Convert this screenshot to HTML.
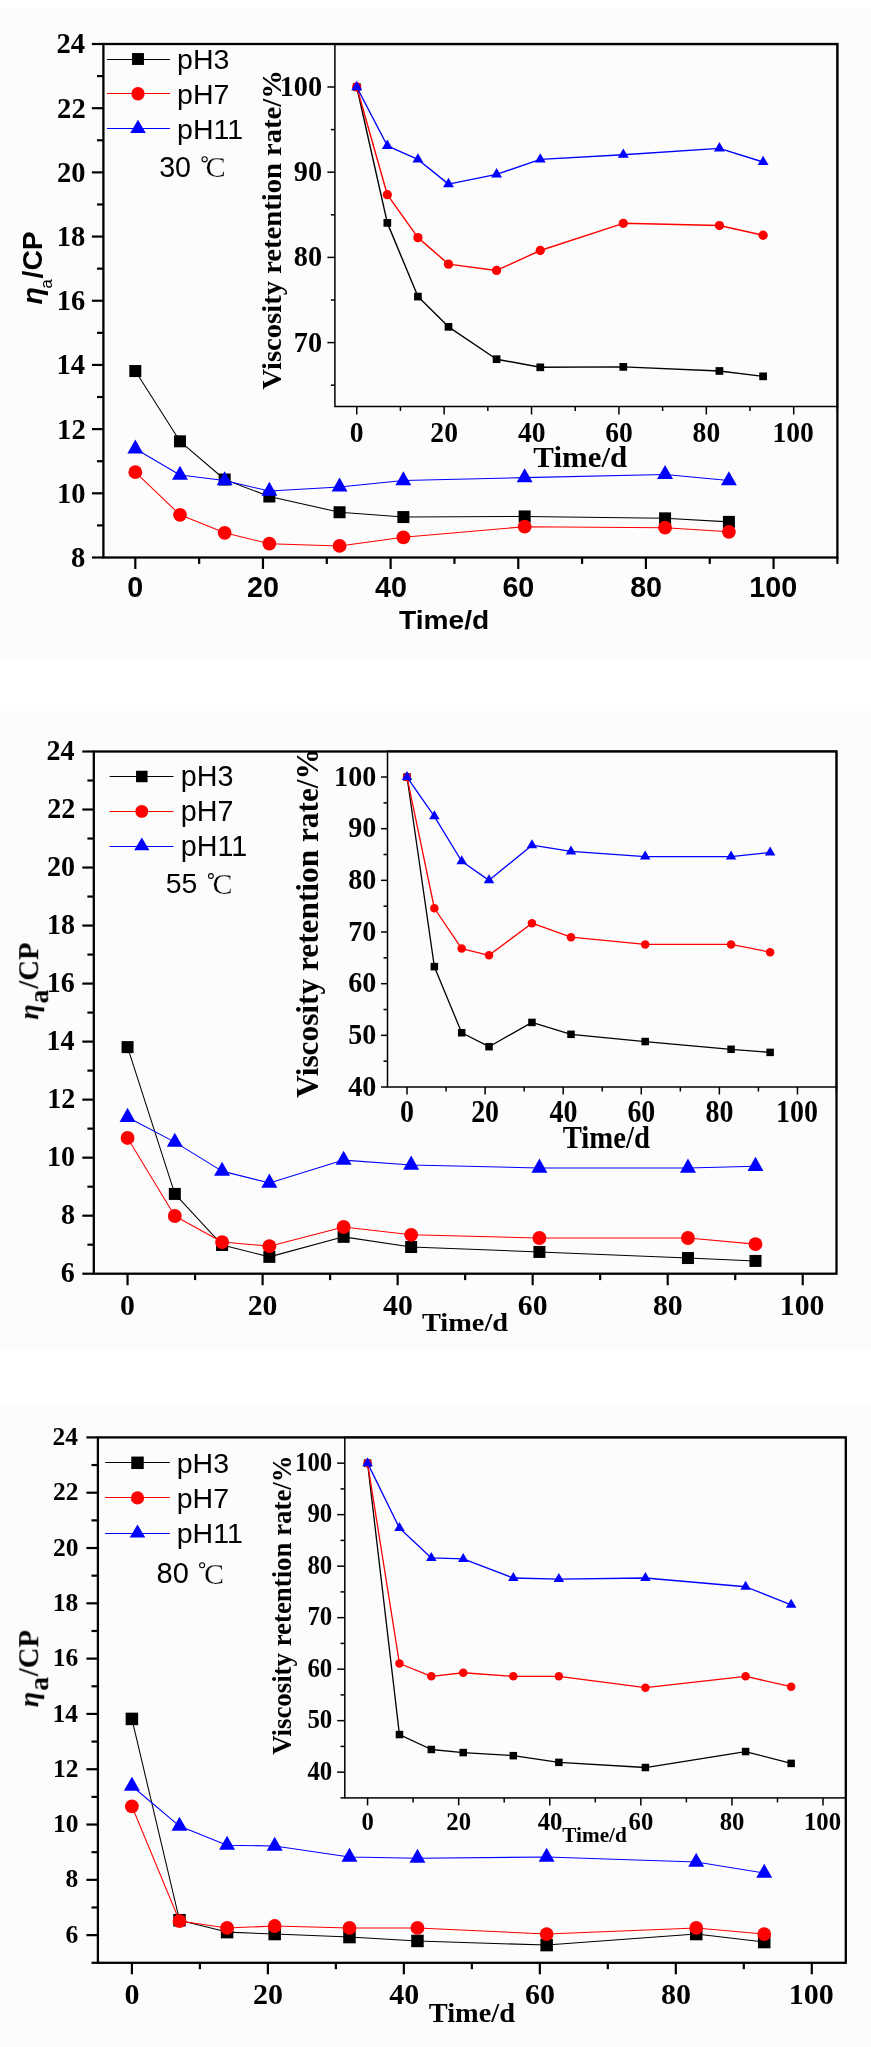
<!DOCTYPE html>
<html><head><meta charset="utf-8"><style>
html,body{margin:0;padding:0;background:#fff;overflow:hidden;}
svg{display:block;will-change:transform;}
</style></head><body>
<svg width="871" height="2047" viewBox="0 0 871 2047"><rect x="0" y="8" width="871" height="650" fill="#fcfcfc"/>
<rect x="0" y="711" width="871" height="639" fill="#fcfcfc"/>
<rect x="0" y="1404" width="871" height="643" fill="#fcfcfc"/>
<polyline points="135.31,371.04 179.99,441.32 224.67,479.51 269.35,496.52 339.56,512.25 403.38,517.06 524.65,516.42 665.07,518.35 728.90,521.88" fill="none" stroke="#000" stroke-width="1.05" stroke-linejoin="round"/>
<rect x="129.31" y="365.04" width="12.00" height="12.00" fill="#000"/>
<rect x="173.99" y="435.32" width="12.00" height="12.00" fill="#000"/>
<rect x="218.67" y="473.51" width="12.00" height="12.00" fill="#000"/>
<rect x="263.35" y="490.52" width="12.00" height="12.00" fill="#000"/>
<rect x="333.56" y="506.25" width="12.00" height="12.00" fill="#000"/>
<rect x="397.38" y="511.06" width="12.00" height="12.00" fill="#000"/>
<rect x="518.65" y="510.42" width="12.00" height="12.00" fill="#000"/>
<rect x="659.07" y="512.35" width="12.00" height="12.00" fill="#000"/>
<rect x="722.90" y="515.88" width="12.00" height="12.00" fill="#000"/>
<polyline points="135.31,472.13 179.99,514.82 224.67,532.79 269.35,543.70 339.56,545.95 403.38,537.28 524.65,526.69 665.07,527.65 728.90,531.82" fill="none" stroke="#f00" stroke-width="1.05" stroke-linejoin="round"/>
<circle cx="135.31" cy="472.13" r="6.90" fill="#f00"/>
<circle cx="179.99" cy="514.82" r="6.90" fill="#f00"/>
<circle cx="224.67" cy="532.79" r="6.90" fill="#f00"/>
<circle cx="269.35" cy="543.70" r="6.90" fill="#f00"/>
<circle cx="339.56" cy="545.95" r="6.90" fill="#f00"/>
<circle cx="403.38" cy="537.28" r="6.90" fill="#f00"/>
<circle cx="524.65" cy="526.69" r="6.90" fill="#f00"/>
<circle cx="665.07" cy="527.65" r="6.90" fill="#f00"/>
<circle cx="728.90" cy="531.82" r="6.90" fill="#f00"/>
<polyline points="135.31,448.74 179.99,475.06 224.67,480.51 269.35,491.10 339.56,486.93 403.38,480.51 524.65,477.62 665.07,474.41 728.90,480.51" fill="none" stroke="#00f" stroke-width="1.05" stroke-linejoin="round"/>
<path d="M135.31 439.41L143.26 453.41L127.36 453.41Z" fill="#00f"/>
<path d="M179.99 465.72L187.94 479.72L172.04 479.72Z" fill="#00f"/>
<path d="M224.67 471.18L232.62 485.18L216.72 485.18Z" fill="#00f"/>
<path d="M269.35 481.77L277.30 495.77L261.40 495.77Z" fill="#00f"/>
<path d="M339.56 477.60L347.51 491.60L331.61 491.60Z" fill="#00f"/>
<path d="M403.38 471.18L411.33 485.18L395.43 485.18Z" fill="#00f"/>
<path d="M524.65 468.29L532.60 482.29L516.70 482.29Z" fill="#00f"/>
<path d="M665.07 465.08L673.02 479.08L657.12 479.08Z" fill="#00f"/>
<path d="M728.90 471.18L736.85 485.18L720.95 485.18Z" fill="#00f"/>
<rect x="334.90" y="44.40" width="502.50" height="362.10" fill="#fcfcfc"/>
<polyline points="356.75,87.00 387.33,222.89 417.92,296.59 448.51,326.84 496.57,359.21 540.27,367.31 623.29,366.88 719.42,370.97 763.12,376.34" fill="none" stroke="#000" stroke-width="1.40" stroke-linejoin="round"/>
<rect x="352.90" y="83.15" width="7.70" height="7.70" fill="#000"/>
<rect x="383.48" y="219.04" width="7.70" height="7.70" fill="#000"/>
<rect x="414.07" y="292.74" width="7.70" height="7.70" fill="#000"/>
<rect x="444.66" y="322.99" width="7.70" height="7.70" fill="#000"/>
<rect x="492.72" y="355.36" width="7.70" height="7.70" fill="#000"/>
<rect x="536.42" y="363.46" width="7.70" height="7.70" fill="#000"/>
<rect x="619.44" y="363.03" width="7.70" height="7.70" fill="#000"/>
<rect x="715.57" y="367.12" width="7.70" height="7.70" fill="#000"/>
<rect x="759.27" y="372.49" width="7.70" height="7.70" fill="#000"/>
<polyline points="356.75,87.00 387.33,194.69 417.92,237.63 448.51,264.13 496.57,270.44 540.27,250.50 623.29,223.32 719.42,225.54 763.12,235.25" fill="none" stroke="#f00" stroke-width="1.40" stroke-linejoin="round"/>
<circle cx="356.75" cy="87.00" r="4.65" fill="#f00"/>
<circle cx="387.33" cy="194.69" r="4.65" fill="#f00"/>
<circle cx="417.92" cy="237.63" r="4.65" fill="#f00"/>
<circle cx="448.51" cy="264.13" r="4.65" fill="#f00"/>
<circle cx="496.57" cy="270.44" r="4.65" fill="#f00"/>
<circle cx="540.27" cy="250.50" r="4.65" fill="#f00"/>
<circle cx="623.29" cy="223.32" r="4.65" fill="#f00"/>
<circle cx="719.42" cy="225.54" r="4.65" fill="#f00"/>
<circle cx="763.12" cy="235.25" r="4.65" fill="#f00"/>
<polyline points="356.75,87.00 387.33,145.79 417.92,159.42 448.51,184.13 496.57,174.33 540.27,159.42 623.29,154.73 719.42,148.34 763.12,161.98" fill="none" stroke="#00f" stroke-width="1.40" stroke-linejoin="round"/>
<path d="M356.75 80.73L362.20 90.13L351.30 90.13Z" fill="#00f"/>
<path d="M387.33 139.52L392.78 148.92L381.88 148.92Z" fill="#00f"/>
<path d="M417.92 153.15L423.37 162.55L412.47 162.55Z" fill="#00f"/>
<path d="M448.51 177.86L453.96 187.26L443.06 187.26Z" fill="#00f"/>
<path d="M496.57 168.06L502.02 177.46L491.12 177.46Z" fill="#00f"/>
<path d="M540.27 153.15L545.72 162.55L534.82 162.55Z" fill="#00f"/>
<path d="M623.29 148.47L628.74 157.87L617.84 157.87Z" fill="#00f"/>
<path d="M719.42 142.08L724.87 151.48L713.97 151.48Z" fill="#00f"/>
<path d="M763.12 155.71L768.57 165.11L757.67 165.11Z" fill="#00f"/>
<rect x="334.90" y="44.40" width="502.50" height="362.10" fill="none" stroke="#000" stroke-width="1.50"/>
<line x1="356.75" y1="406.50" x2="356.75" y2="414.50" stroke="#000" stroke-width="1.50"/>
<line x1="444.14" y1="406.50" x2="444.14" y2="414.50" stroke="#000" stroke-width="1.50"/>
<line x1="531.53" y1="406.50" x2="531.53" y2="414.50" stroke="#000" stroke-width="1.50"/>
<line x1="618.92" y1="406.50" x2="618.92" y2="414.50" stroke="#000" stroke-width="1.50"/>
<line x1="706.31" y1="406.50" x2="706.31" y2="414.50" stroke="#000" stroke-width="1.50"/>
<line x1="793.70" y1="406.50" x2="793.70" y2="414.50" stroke="#000" stroke-width="1.50"/>
<line x1="400.44" y1="406.50" x2="400.44" y2="411.00" stroke="#000" stroke-width="1.50"/>
<line x1="487.83" y1="406.50" x2="487.83" y2="411.00" stroke="#000" stroke-width="1.50"/>
<line x1="575.23" y1="406.50" x2="575.23" y2="411.00" stroke="#000" stroke-width="1.50"/>
<line x1="662.62" y1="406.50" x2="662.62" y2="411.00" stroke="#000" stroke-width="1.50"/>
<line x1="750.01" y1="406.50" x2="750.01" y2="411.00" stroke="#000" stroke-width="1.50"/>
<line x1="837.40" y1="406.50" x2="837.40" y2="411.00" stroke="#000" stroke-width="1.50"/>
<line x1="327.40" y1="342.60" x2="334.90" y2="342.60" stroke="#000" stroke-width="1.50"/>
<line x1="327.40" y1="257.40" x2="334.90" y2="257.40" stroke="#000" stroke-width="1.50"/>
<line x1="327.40" y1="172.20" x2="334.90" y2="172.20" stroke="#000" stroke-width="1.50"/>
<line x1="327.40" y1="87.00" x2="334.90" y2="87.00" stroke="#000" stroke-width="1.50"/>
<line x1="330.90" y1="385.20" x2="334.90" y2="385.20" stroke="#000" stroke-width="1.50"/>
<line x1="330.90" y1="300.00" x2="334.90" y2="300.00" stroke="#000" stroke-width="1.50"/>
<line x1="330.90" y1="214.80" x2="334.90" y2="214.80" stroke="#000" stroke-width="1.50"/>
<line x1="330.90" y1="129.60" x2="334.90" y2="129.60" stroke="#000" stroke-width="1.50"/>
<text font-family="Liberation Serif, serif" font-size="29.50" font-weight="bold" fill="#000" transform="translate(349.85,441.82) scale(0.9350,1)">0</text>
<text font-family="Liberation Serif, serif" font-size="29.50" font-weight="bold" fill="#000" transform="translate(430.35,441.82) scale(0.9350,1)">20</text>
<text font-family="Liberation Serif, serif" font-size="29.50" font-weight="bold" fill="#000" transform="translate(518.08,441.82) scale(0.9350,1)">40</text>
<text font-family="Liberation Serif, serif" font-size="29.50" font-weight="bold" fill="#000" transform="translate(605.20,441.82) scale(0.9350,1)">60</text>
<text font-family="Liberation Serif, serif" font-size="29.50" font-weight="bold" fill="#000" transform="translate(692.59,441.82) scale(0.9350,1)">80</text>
<text font-family="Liberation Serif, serif" font-size="29.50" font-weight="bold" fill="#000" transform="translate(772.47,441.82) scale(0.9350,1)">100</text>
<text font-family="Liberation Serif, serif" font-size="29.80" font-weight="bold" fill="#000" transform="translate(293.82,351.56) scale(0.9500,1)">70</text>
<text font-family="Liberation Serif, serif" font-size="29.80" font-weight="bold" fill="#000" transform="translate(293.82,266.36) scale(0.9500,1)">80</text>
<text font-family="Liberation Serif, serif" font-size="29.80" font-weight="bold" fill="#000" transform="translate(293.82,181.16) scale(0.9500,1)">90</text>
<text font-family="Liberation Serif, serif" font-size="29.80" font-weight="bold" fill="#000" transform="translate(279.67,95.96) scale(0.9500,1)">100</text>
<text font-family="Liberation Serif, serif" font-size="30.35" font-weight="bold" fill="#000" transform="translate(533.34,467.20) scale(1.0179,1)">Time/d</text>
<text font-family="Liberation Serif, serif" font-size="28.35" font-weight="bold" fill="#000" transform="translate(280.50,389.59) rotate(-90) scale(1.0097,1)">Viscosity retention rate/%</text>
<rect x="103.40" y="44.00" width="734.00" height="513.50" fill="none" stroke="#000" stroke-width="2.30"/>
<line x1="135.31" y1="557.50" x2="135.31" y2="569.00" stroke="#000" stroke-width="2.20"/>
<line x1="262.97" y1="557.50" x2="262.97" y2="569.00" stroke="#000" stroke-width="2.20"/>
<line x1="390.62" y1="557.50" x2="390.62" y2="569.00" stroke="#000" stroke-width="2.20"/>
<line x1="518.27" y1="557.50" x2="518.27" y2="569.00" stroke="#000" stroke-width="2.20"/>
<line x1="645.92" y1="557.50" x2="645.92" y2="569.00" stroke="#000" stroke-width="2.20"/>
<line x1="773.57" y1="557.50" x2="773.57" y2="569.00" stroke="#000" stroke-width="2.20"/>
<line x1="199.14" y1="557.50" x2="199.14" y2="563.90" stroke="#000" stroke-width="2.20"/>
<line x1="326.79" y1="557.50" x2="326.79" y2="563.90" stroke="#000" stroke-width="2.20"/>
<line x1="454.44" y1="557.50" x2="454.44" y2="563.90" stroke="#000" stroke-width="2.20"/>
<line x1="582.10" y1="557.50" x2="582.10" y2="563.90" stroke="#000" stroke-width="2.20"/>
<line x1="709.75" y1="557.50" x2="709.75" y2="563.90" stroke="#000" stroke-width="2.20"/>
<line x1="837.40" y1="557.50" x2="837.40" y2="563.90" stroke="#000" stroke-width="2.20"/>
<line x1="91.90" y1="557.50" x2="103.40" y2="557.50" stroke="#000" stroke-width="2.20"/>
<line x1="91.90" y1="493.31" x2="103.40" y2="493.31" stroke="#000" stroke-width="2.20"/>
<line x1="91.90" y1="429.12" x2="103.40" y2="429.12" stroke="#000" stroke-width="2.20"/>
<line x1="91.90" y1="364.94" x2="103.40" y2="364.94" stroke="#000" stroke-width="2.20"/>
<line x1="91.90" y1="300.75" x2="103.40" y2="300.75" stroke="#000" stroke-width="2.20"/>
<line x1="91.90" y1="236.56" x2="103.40" y2="236.56" stroke="#000" stroke-width="2.20"/>
<line x1="91.90" y1="172.38" x2="103.40" y2="172.38" stroke="#000" stroke-width="2.20"/>
<line x1="91.90" y1="108.19" x2="103.40" y2="108.19" stroke="#000" stroke-width="2.20"/>
<line x1="91.90" y1="44.00" x2="103.40" y2="44.00" stroke="#000" stroke-width="2.20"/>
<line x1="97.00" y1="525.41" x2="103.40" y2="525.41" stroke="#000" stroke-width="2.20"/>
<line x1="97.00" y1="461.22" x2="103.40" y2="461.22" stroke="#000" stroke-width="2.20"/>
<line x1="97.00" y1="397.03" x2="103.40" y2="397.03" stroke="#000" stroke-width="2.20"/>
<line x1="97.00" y1="332.84" x2="103.40" y2="332.84" stroke="#000" stroke-width="2.20"/>
<line x1="97.00" y1="268.66" x2="103.40" y2="268.66" stroke="#000" stroke-width="2.20"/>
<line x1="97.00" y1="204.47" x2="103.40" y2="204.47" stroke="#000" stroke-width="2.20"/>
<line x1="97.00" y1="140.28" x2="103.40" y2="140.28" stroke="#000" stroke-width="2.20"/>
<line x1="97.00" y1="76.09" x2="103.40" y2="76.09" stroke="#000" stroke-width="2.20"/>
<text font-family="Liberation Sans, sans-serif" font-size="28.70" font-weight="bold" fill="#000" transform="translate(127.35,597.39) scale(1.0000,1)">0</text>
<text font-family="Liberation Sans, sans-serif" font-size="28.70" font-weight="bold" fill="#000" transform="translate(247.11,597.39) scale(1.0000,1)">20</text>
<text font-family="Liberation Sans, sans-serif" font-size="28.70" font-weight="bold" fill="#000" transform="translate(375.05,597.39) scale(1.0000,1)">40</text>
<text font-family="Liberation Sans, sans-serif" font-size="28.70" font-weight="bold" fill="#000" transform="translate(502.41,597.39) scale(1.0000,1)">60</text>
<text font-family="Liberation Sans, sans-serif" font-size="28.70" font-weight="bold" fill="#000" transform="translate(630.14,597.39) scale(1.0000,1)">80</text>
<text font-family="Liberation Sans, sans-serif" font-size="28.70" font-weight="bold" fill="#000" transform="translate(749.32,597.39) scale(1.0000,1)">100</text>
<text font-family="Liberation Serif, serif" font-size="29.00" font-weight="bold" fill="#000" transform="translate(71.12,566.90) scale(0.9850,1)">8</text>
<text font-family="Liberation Serif, serif" font-size="29.00" font-weight="bold" fill="#000" transform="translate(56.98,502.71) scale(0.9850,1)">10</text>
<text font-family="Liberation Serif, serif" font-size="29.00" font-weight="bold" fill="#000" transform="translate(57.12,438.59) scale(0.9850,1)">12</text>
<text font-family="Liberation Serif, serif" font-size="29.00" font-weight="bold" fill="#000" transform="translate(56.41,374.41) scale(0.9850,1)">14</text>
<text font-family="Liberation Serif, serif" font-size="29.00" font-weight="bold" fill="#000" transform="translate(56.69,310.07) scale(0.9850,1)">16</text>
<text font-family="Liberation Serif, serif" font-size="29.00" font-weight="bold" fill="#000" transform="translate(56.83,245.96) scale(0.9850,1)">18</text>
<text font-family="Liberation Serif, serif" font-size="29.00" font-weight="bold" fill="#000" transform="translate(56.98,181.77) scale(0.9850,1)">20</text>
<text font-family="Liberation Serif, serif" font-size="29.00" font-weight="bold" fill="#000" transform="translate(57.12,117.66) scale(0.9850,1)">22</text>
<text font-family="Liberation Serif, serif" font-size="29.00" font-weight="bold" fill="#000" transform="translate(56.41,53.47) scale(0.9850,1)">24</text>
<text font-family="Liberation Sans, sans-serif" font-size="26.58" font-weight="bold" fill="#000" transform="translate(399.02,629.07) scale(1.0591,1)">Time/d</text>
<line x1="107.00" y1="59.50" x2="170.00" y2="59.50" stroke="#000" stroke-width="1.20"/>
<rect x="132.05" y="53.05" width="11.90" height="11.90" fill="#000"/>
<text font-family="Liberation Sans, sans-serif" font-size="28.50" fill="#000" transform="translate(177.05,69.10) scale(1.0000,1)">pH3</text>
<line x1="107.00" y1="93.50" x2="170.00" y2="93.50" stroke="#f00" stroke-width="1.20"/>
<circle cx="138.00" cy="93.80" r="6.70" fill="#f00"/>
<text font-family="Liberation Sans, sans-serif" font-size="28.50" fill="#000" transform="translate(177.05,103.90) scale(1.0000,1)">pH7</text>
<line x1="107.00" y1="128.50" x2="170.00" y2="128.50" stroke="#00f" stroke-width="1.20"/>
<path d="M138.00 119.63L145.80 132.93L130.20 132.93Z" fill="#00f"/>
<text font-family="Liberation Sans, sans-serif" font-size="28.50" fill="#000" transform="translate(177.05,138.60) scale(1.0000,1)">pH11</text>
<text font-family="Liberation Sans, sans-serif" font-size="28.60" fill="#000" transform="translate(159.16,176.90) scale(1.0000,1)">30</text>
<circle cx="204.60" cy="159.30" r="2.60" fill="none" stroke="#000" stroke-width="1.10"/>
<text stroke="#fcfcfc" stroke-width="0.25" font-family="Liberation Serif, serif" font-size="30.30" fill="#000" transform="translate(205.39,176.50) scale(1.0000,1)">C</text>
<g transform="translate(42.40,304.00) rotate(-90)"><text font-family="Liberation Sans, sans-serif" font-size="28.50" font-weight="bold" font-style="italic" x="-0.57" y="0.00">η</text><text font-family="Liberation Sans, sans-serif" font-size="16.50" x="15.46" y="10.00">a</text><text font-family="Liberation Sans, sans-serif" font-size="28.30" font-weight="bold" x="25.52" y="0.00">/CP</text></g>
<polyline points="127.56,1047.12 174.82,1193.92 222.08,1244.98 269.35,1256.87 343.62,1236.86 411.14,1247.01 539.42,1251.94 687.96,1258.03 755.48,1260.94" fill="none" stroke="#000" stroke-width="1.05" stroke-linejoin="round"/>
<rect x="121.56" y="1041.12" width="12.00" height="12.00" fill="#000"/>
<rect x="168.82" y="1187.92" width="12.00" height="12.00" fill="#000"/>
<rect x="216.08" y="1238.98" width="12.00" height="12.00" fill="#000"/>
<rect x="263.35" y="1250.87" width="12.00" height="12.00" fill="#000"/>
<rect x="337.62" y="1230.86" width="12.00" height="12.00" fill="#000"/>
<rect x="405.14" y="1241.01" width="12.00" height="12.00" fill="#000"/>
<rect x="533.42" y="1245.94" width="12.00" height="12.00" fill="#000"/>
<rect x="681.96" y="1252.03" width="12.00" height="12.00" fill="#000"/>
<rect x="749.48" y="1254.94" width="12.00" height="12.00" fill="#000"/>
<polyline points="127.56,1137.93 174.82,1215.97 222.08,1242.08 269.35,1246.14 343.62,1226.99 411.14,1234.83 539.42,1238.02 687.96,1238.02 755.48,1244.11" fill="none" stroke="#f00" stroke-width="1.05" stroke-linejoin="round"/>
<circle cx="127.56" cy="1137.93" r="6.95" fill="#f00"/>
<circle cx="174.82" cy="1215.97" r="6.95" fill="#f00"/>
<circle cx="222.08" cy="1242.08" r="6.95" fill="#f00"/>
<circle cx="269.35" cy="1246.14" r="6.95" fill="#f00"/>
<circle cx="343.62" cy="1226.99" r="6.95" fill="#f00"/>
<circle cx="411.14" cy="1234.83" r="6.95" fill="#f00"/>
<circle cx="539.42" cy="1238.02" r="6.95" fill="#f00"/>
<circle cx="687.96" cy="1238.02" r="6.95" fill="#f00"/>
<circle cx="755.48" cy="1244.11" r="6.95" fill="#f00"/>
<polyline points="127.56,1117.17 174.82,1142.12 222.08,1171.13 269.35,1183.02 343.62,1160.11 411.14,1165.04 539.42,1167.94 687.96,1167.94 755.48,1166.20" fill="none" stroke="#00f" stroke-width="1.05" stroke-linejoin="round"/>
<path d="M127.56 1107.70L135.56 1121.90L119.56 1121.90Z" fill="#00f"/>
<path d="M174.82 1132.65L182.82 1146.85L166.82 1146.85Z" fill="#00f"/>
<path d="M222.08 1161.66L230.08 1175.86L214.08 1175.86Z" fill="#00f"/>
<path d="M269.35 1173.56L277.35 1187.76L261.35 1187.76Z" fill="#00f"/>
<path d="M343.62 1150.64L351.62 1164.84L335.62 1164.84Z" fill="#00f"/>
<path d="M411.14 1155.57L419.14 1169.77L403.14 1169.77Z" fill="#00f"/>
<path d="M539.42 1158.47L547.42 1172.67L531.42 1172.67Z" fill="#00f"/>
<path d="M687.96 1158.47L695.96 1172.67L679.96 1172.67Z" fill="#00f"/>
<path d="M755.48 1156.73L763.48 1170.93L747.48 1170.93Z" fill="#00f"/>
<rect x="387.50" y="751.20" width="449.00" height="335.80" fill="#fcfcfc"/>
<polyline points="407.02,777.03 434.35,966.63 461.68,1032.76 489.01,1046.70 531.96,1022.42 571.00,1034.31 645.19,1041.54 731.08,1049.29 770.13,1052.39" fill="none" stroke="#000" stroke-width="1.30" stroke-linejoin="round"/>
<rect x="403.27" y="773.28" width="7.50" height="7.50" fill="#000"/>
<rect x="430.60" y="962.88" width="7.50" height="7.50" fill="#000"/>
<rect x="457.93" y="1029.01" width="7.50" height="7.50" fill="#000"/>
<rect x="485.26" y="1042.95" width="7.50" height="7.50" fill="#000"/>
<rect x="528.21" y="1018.67" width="7.50" height="7.50" fill="#000"/>
<rect x="567.25" y="1030.56" width="7.50" height="7.50" fill="#000"/>
<rect x="641.44" y="1037.79" width="7.50" height="7.50" fill="#000"/>
<rect x="727.33" y="1045.54" width="7.50" height="7.50" fill="#000"/>
<rect x="766.38" y="1048.64" width="7.50" height="7.50" fill="#000"/>
<polyline points="407.02,777.03 434.35,908.25 461.68,948.55 489.01,955.26 531.96,923.23 571.00,937.18 645.19,944.41 731.08,944.41 770.13,952.16" fill="none" stroke="#f00" stroke-width="1.30" stroke-linejoin="round"/>
<circle cx="407.02" cy="777.03" r="4.25" fill="#f00"/>
<circle cx="434.35" cy="908.25" r="4.25" fill="#f00"/>
<circle cx="461.68" cy="948.55" r="4.25" fill="#f00"/>
<circle cx="489.01" cy="955.26" r="4.25" fill="#f00"/>
<circle cx="531.96" cy="923.23" r="4.25" fill="#f00"/>
<circle cx="571.00" cy="937.18" r="4.25" fill="#f00"/>
<circle cx="645.19" cy="944.41" r="4.25" fill="#f00"/>
<circle cx="731.08" cy="944.41" r="4.25" fill="#f00"/>
<circle cx="770.13" cy="952.16" r="4.25" fill="#f00"/>
<polyline points="407.02,777.03 434.35,816.29 461.68,861.24 489.01,880.35 531.96,845.22 571.00,851.42 645.19,856.59 731.08,856.59 770.13,852.46" fill="none" stroke="#00f" stroke-width="1.30" stroke-linejoin="round"/>
<path d="M407.02 771.03L412.27 780.03L401.77 780.03Z" fill="#00f"/>
<path d="M434.35 810.29L439.60 819.29L429.10 819.29Z" fill="#00f"/>
<path d="M461.68 855.24L466.93 864.24L456.43 864.24Z" fill="#00f"/>
<path d="M489.01 874.35L494.26 883.35L483.76 883.35Z" fill="#00f"/>
<path d="M531.96 839.22L537.21 848.22L526.71 848.22Z" fill="#00f"/>
<path d="M571.00 845.42L576.25 854.42L565.75 854.42Z" fill="#00f"/>
<path d="M645.19 850.59L650.44 859.59L639.94 859.59Z" fill="#00f"/>
<path d="M731.08 850.59L736.33 859.59L725.83 859.59Z" fill="#00f"/>
<path d="M770.13 846.46L775.38 855.46L764.88 855.46Z" fill="#00f"/>
<rect x="387.50" y="751.20" width="449.00" height="335.80" fill="none" stroke="#000" stroke-width="1.50"/>
<line x1="407.02" y1="1087.00" x2="407.02" y2="1094.50" stroke="#000" stroke-width="1.50"/>
<line x1="485.11" y1="1087.00" x2="485.11" y2="1094.50" stroke="#000" stroke-width="1.50"/>
<line x1="563.20" y1="1087.00" x2="563.20" y2="1094.50" stroke="#000" stroke-width="1.50"/>
<line x1="641.28" y1="1087.00" x2="641.28" y2="1094.50" stroke="#000" stroke-width="1.50"/>
<line x1="719.37" y1="1087.00" x2="719.37" y2="1094.50" stroke="#000" stroke-width="1.50"/>
<line x1="797.46" y1="1087.00" x2="797.46" y2="1094.50" stroke="#000" stroke-width="1.50"/>
<line x1="446.07" y1="1087.00" x2="446.07" y2="1091.50" stroke="#000" stroke-width="1.50"/>
<line x1="524.15" y1="1087.00" x2="524.15" y2="1091.50" stroke="#000" stroke-width="1.50"/>
<line x1="602.24" y1="1087.00" x2="602.24" y2="1091.50" stroke="#000" stroke-width="1.50"/>
<line x1="680.33" y1="1087.00" x2="680.33" y2="1091.50" stroke="#000" stroke-width="1.50"/>
<line x1="758.41" y1="1087.00" x2="758.41" y2="1091.50" stroke="#000" stroke-width="1.50"/>
<line x1="836.50" y1="1087.00" x2="836.50" y2="1091.50" stroke="#000" stroke-width="1.50"/>
<line x1="381.00" y1="1087.00" x2="387.50" y2="1087.00" stroke="#000" stroke-width="1.50"/>
<line x1="381.00" y1="1035.34" x2="387.50" y2="1035.34" stroke="#000" stroke-width="1.50"/>
<line x1="381.00" y1="983.68" x2="387.50" y2="983.68" stroke="#000" stroke-width="1.50"/>
<line x1="381.00" y1="932.02" x2="387.50" y2="932.02" stroke="#000" stroke-width="1.50"/>
<line x1="381.00" y1="880.35" x2="387.50" y2="880.35" stroke="#000" stroke-width="1.50"/>
<line x1="381.00" y1="828.69" x2="387.50" y2="828.69" stroke="#000" stroke-width="1.50"/>
<line x1="381.00" y1="777.03" x2="387.50" y2="777.03" stroke="#000" stroke-width="1.50"/>
<line x1="383.50" y1="1061.17" x2="387.50" y2="1061.17" stroke="#000" stroke-width="1.50"/>
<line x1="383.50" y1="1009.51" x2="387.50" y2="1009.51" stroke="#000" stroke-width="1.50"/>
<line x1="383.50" y1="957.85" x2="387.50" y2="957.85" stroke="#000" stroke-width="1.50"/>
<line x1="383.50" y1="906.18" x2="387.50" y2="906.18" stroke="#000" stroke-width="1.50"/>
<line x1="383.50" y1="854.52" x2="387.50" y2="854.52" stroke="#000" stroke-width="1.50"/>
<line x1="383.50" y1="802.86" x2="387.50" y2="802.86" stroke="#000" stroke-width="1.50"/>
<text font-family="Liberation Serif, serif" font-size="30.70" font-weight="bold" fill="#000" transform="translate(400.04,1122.42) scale(0.9100,1)">0</text>
<text font-family="Liberation Serif, serif" font-size="30.70" font-weight="bold" fill="#000" transform="translate(471.14,1122.42) scale(0.9100,1)">20</text>
<text font-family="Liberation Serif, serif" font-size="30.70" font-weight="bold" fill="#000" transform="translate(549.58,1122.42) scale(0.9100,1)">40</text>
<text font-family="Liberation Serif, serif" font-size="30.70" font-weight="bold" fill="#000" transform="translate(627.38,1122.42) scale(0.9100,1)">60</text>
<text font-family="Liberation Serif, serif" font-size="30.70" font-weight="bold" fill="#000" transform="translate(705.47,1122.42) scale(0.9100,1)">80</text>
<text font-family="Liberation Serif, serif" font-size="30.70" font-weight="bold" fill="#000" transform="translate(775.95,1122.42) scale(0.9100,1)">100</text>
<text font-family="Liberation Serif, serif" font-size="30.20" font-weight="bold" fill="#000" transform="translate(348.14,1095.69) scale(0.9300,1)">40</text>
<text font-family="Liberation Serif, serif" font-size="30.20" font-weight="bold" fill="#000" transform="translate(348.14,1044.03) scale(0.9300,1)">50</text>
<text font-family="Liberation Serif, serif" font-size="30.20" font-weight="bold" fill="#000" transform="translate(348.14,992.37) scale(0.9300,1)">60</text>
<text font-family="Liberation Serif, serif" font-size="30.20" font-weight="bold" fill="#000" transform="translate(348.14,940.71) scale(0.9300,1)">70</text>
<text font-family="Liberation Serif, serif" font-size="30.20" font-weight="bold" fill="#000" transform="translate(348.14,889.04) scale(0.9300,1)">80</text>
<text font-family="Liberation Serif, serif" font-size="30.20" font-weight="bold" fill="#000" transform="translate(348.14,837.38) scale(0.9300,1)">90</text>
<text font-family="Liberation Serif, serif" font-size="30.20" font-weight="bold" fill="#000" transform="translate(334.09,785.72) scale(0.9300,1)">100</text>
<text font-family="Liberation Serif, serif" font-size="30.92" font-weight="bold" fill="#000" transform="translate(562.67,1147.59) scale(0.9283,1)">Time/d</text>
<text font-family="Liberation Serif, serif" font-size="31.21" font-weight="bold" fill="#000" transform="translate(317.59,1097.71) rotate(-90) scale(1.0036,1)">Viscosity retention rate/%</text>
<rect x="93.80" y="751.50" width="742.70" height="522.20" fill="none" stroke="#000" stroke-width="2.30"/>
<line x1="127.56" y1="1273.70" x2="127.56" y2="1285.20" stroke="#000" stroke-width="2.20"/>
<line x1="262.60" y1="1273.70" x2="262.60" y2="1285.20" stroke="#000" stroke-width="2.20"/>
<line x1="397.63" y1="1273.70" x2="397.63" y2="1285.20" stroke="#000" stroke-width="2.20"/>
<line x1="532.67" y1="1273.70" x2="532.67" y2="1285.20" stroke="#000" stroke-width="2.20"/>
<line x1="667.70" y1="1273.70" x2="667.70" y2="1285.20" stroke="#000" stroke-width="2.20"/>
<line x1="802.74" y1="1273.70" x2="802.74" y2="1285.20" stroke="#000" stroke-width="2.20"/>
<line x1="195.08" y1="1273.70" x2="195.08" y2="1280.10" stroke="#000" stroke-width="2.20"/>
<line x1="330.11" y1="1273.70" x2="330.11" y2="1280.10" stroke="#000" stroke-width="2.20"/>
<line x1="465.15" y1="1273.70" x2="465.15" y2="1280.10" stroke="#000" stroke-width="2.20"/>
<line x1="600.19" y1="1273.70" x2="600.19" y2="1280.10" stroke="#000" stroke-width="2.20"/>
<line x1="735.22" y1="1273.70" x2="735.22" y2="1280.10" stroke="#000" stroke-width="2.20"/>
<line x1="82.30" y1="1273.70" x2="93.80" y2="1273.70" stroke="#000" stroke-width="2.20"/>
<line x1="82.30" y1="1215.68" x2="93.80" y2="1215.68" stroke="#000" stroke-width="2.20"/>
<line x1="82.30" y1="1157.66" x2="93.80" y2="1157.66" stroke="#000" stroke-width="2.20"/>
<line x1="82.30" y1="1099.63" x2="93.80" y2="1099.63" stroke="#000" stroke-width="2.20"/>
<line x1="82.30" y1="1041.61" x2="93.80" y2="1041.61" stroke="#000" stroke-width="2.20"/>
<line x1="82.30" y1="983.59" x2="93.80" y2="983.59" stroke="#000" stroke-width="2.20"/>
<line x1="82.30" y1="925.57" x2="93.80" y2="925.57" stroke="#000" stroke-width="2.20"/>
<line x1="82.30" y1="867.54" x2="93.80" y2="867.54" stroke="#000" stroke-width="2.20"/>
<line x1="82.30" y1="809.52" x2="93.80" y2="809.52" stroke="#000" stroke-width="2.20"/>
<line x1="82.30" y1="751.50" x2="93.80" y2="751.50" stroke="#000" stroke-width="2.20"/>
<line x1="87.40" y1="1244.69" x2="93.80" y2="1244.69" stroke="#000" stroke-width="2.20"/>
<line x1="87.40" y1="1186.67" x2="93.80" y2="1186.67" stroke="#000" stroke-width="2.20"/>
<line x1="87.40" y1="1128.64" x2="93.80" y2="1128.64" stroke="#000" stroke-width="2.20"/>
<line x1="87.40" y1="1070.62" x2="93.80" y2="1070.62" stroke="#000" stroke-width="2.20"/>
<line x1="87.40" y1="1012.60" x2="93.80" y2="1012.60" stroke="#000" stroke-width="2.20"/>
<line x1="87.40" y1="954.58" x2="93.80" y2="954.58" stroke="#000" stroke-width="2.20"/>
<line x1="87.40" y1="896.56" x2="93.80" y2="896.56" stroke="#000" stroke-width="2.20"/>
<line x1="87.40" y1="838.53" x2="93.80" y2="838.53" stroke="#000" stroke-width="2.20"/>
<line x1="87.40" y1="780.51" x2="93.80" y2="780.51" stroke="#000" stroke-width="2.20"/>
<text font-family="Liberation Serif, serif" font-size="29.20" font-weight="bold" fill="#000" transform="translate(120.11,1314.52) scale(1.0200,1)">0</text>
<text font-family="Liberation Serif, serif" font-size="29.20" font-weight="bold" fill="#000" transform="translate(247.70,1314.52) scale(1.0200,1)">20</text>
<text font-family="Liberation Serif, serif" font-size="29.20" font-weight="bold" fill="#000" transform="translate(383.11,1314.52) scale(1.0200,1)">40</text>
<text font-family="Liberation Serif, serif" font-size="29.20" font-weight="bold" fill="#000" transform="translate(517.85,1314.52) scale(1.0200,1)">60</text>
<text font-family="Liberation Serif, serif" font-size="29.20" font-weight="bold" fill="#000" transform="translate(652.89,1314.52) scale(1.0200,1)">80</text>
<text font-family="Liberation Serif, serif" font-size="29.20" font-weight="bold" fill="#000" transform="translate(779.81,1314.52) scale(1.0200,1)">100</text>
<text font-family="Liberation Serif, serif" font-size="28.60" font-weight="bold" fill="#000" transform="translate(60.83,1282.30) scale(0.9800,1)">6</text>
<text font-family="Liberation Serif, serif" font-size="28.60" font-weight="bold" fill="#000" transform="translate(60.97,1224.34) scale(0.9800,1)">8</text>
<text font-family="Liberation Serif, serif" font-size="28.60" font-weight="bold" fill="#000" transform="translate(47.09,1166.32) scale(0.9800,1)">10</text>
<text font-family="Liberation Serif, serif" font-size="28.60" font-weight="bold" fill="#000" transform="translate(47.23,1108.37) scale(0.9800,1)">12</text>
<text font-family="Liberation Serif, serif" font-size="28.60" font-weight="bold" fill="#000" transform="translate(46.53,1050.35) scale(0.9800,1)">14</text>
<text font-family="Liberation Serif, serif" font-size="28.60" font-weight="bold" fill="#000" transform="translate(46.81,992.18) scale(0.9800,1)">16</text>
<text font-family="Liberation Serif, serif" font-size="28.60" font-weight="bold" fill="#000" transform="translate(46.95,934.23) scale(0.9800,1)">18</text>
<text font-family="Liberation Serif, serif" font-size="28.60" font-weight="bold" fill="#000" transform="translate(47.09,876.21) scale(0.9800,1)">20</text>
<text font-family="Liberation Serif, serif" font-size="28.60" font-weight="bold" fill="#000" transform="translate(47.23,818.26) scale(0.9800,1)">22</text>
<text font-family="Liberation Serif, serif" font-size="28.60" font-weight="bold" fill="#000" transform="translate(46.53,760.24) scale(0.9800,1)">24</text>
<text font-family="Liberation Serif, serif" font-size="25.82" font-weight="bold" fill="#000" transform="translate(421.97,1330.64) scale(1.0977,1)">Time/d</text>
<line x1="109.60" y1="776.50" x2="173.50" y2="776.50" stroke="#000" stroke-width="1.20"/>
<rect x="136.05" y="770.75" width="11.50" height="11.50" fill="#000"/>
<text font-family="Liberation Sans, sans-serif" font-size="28.70" fill="#000" transform="translate(180.73,786.10) scale(1.0000,1)">pH3</text>
<line x1="109.60" y1="811.50" x2="173.50" y2="811.50" stroke="#f00" stroke-width="1.20"/>
<circle cx="141.80" cy="811.40" r="6.45" fill="#f00"/>
<text font-family="Liberation Sans, sans-serif" font-size="28.70" fill="#000" transform="translate(180.73,821.00) scale(1.0000,1)">pH7</text>
<line x1="109.60" y1="846.50" x2="173.50" y2="846.50" stroke="#00f" stroke-width="1.20"/>
<path d="M141.80 837.47L149.40 850.27L134.20 850.27Z" fill="#00f"/>
<text font-family="Liberation Sans, sans-serif" font-size="28.70" fill="#000" transform="translate(180.73,855.60) scale(1.0000,1)">pH11</text>
<text font-family="Liberation Sans, sans-serif" font-size="28.40" fill="#000" transform="translate(165.76,893.30) scale(1.0000,1)">55</text>
<circle cx="210.90" cy="876.00" r="2.40" fill="none" stroke="#000" stroke-width="1.10"/>
<text stroke="#fcfcfc" stroke-width="0.25" font-family="Liberation Serif, serif" font-size="30.00" fill="#000" transform="translate(212.50,893.60) scale(1.0000,1)">C</text>
<g transform="translate(38.20,1019.20) rotate(-90)"><text font-family="Liberation Serif, serif" font-size="28.00" font-weight="bold" font-style="italic" x="-0.56" y="-0.50">η</text><text font-family="Liberation Serif, serif" font-size="27.50" font-weight="bold" x="15.78" y="10.00">a</text><text font-family="Liberation Serif, serif" font-size="28.60" font-weight="bold" x="30.59" y="0.00">/CP</text></g>
<polyline points="131.90,1718.90 179.49,1920.21 227.08,1932.11 274.68,1934.04 349.47,1937.08 417.46,1940.95 546.64,1945.10 696.22,1934.04 764.21,1942.06" fill="none" stroke="#000" stroke-width="1.05" stroke-linejoin="round"/>
<rect x="125.65" y="1712.65" width="12.50" height="12.50" fill="#000"/>
<rect x="173.24" y="1913.96" width="12.50" height="12.50" fill="#000"/>
<rect x="220.83" y="1925.86" width="12.50" height="12.50" fill="#000"/>
<rect x="268.43" y="1927.79" width="12.50" height="12.50" fill="#000"/>
<rect x="343.22" y="1930.83" width="12.50" height="12.50" fill="#000"/>
<rect x="411.21" y="1934.70" width="12.50" height="12.50" fill="#000"/>
<rect x="540.39" y="1938.85" width="12.50" height="12.50" fill="#000"/>
<rect x="689.97" y="1927.79" width="12.50" height="12.50" fill="#000"/>
<rect x="757.96" y="1935.81" width="12.50" height="12.50" fill="#000"/>
<polyline points="131.90,1806.29 179.49,1921.04 227.08,1927.96 274.68,1926.02 349.47,1927.96 417.46,1927.96 546.64,1934.04 696.22,1927.96 764.21,1934.04" fill="none" stroke="#f00" stroke-width="1.05" stroke-linejoin="round"/>
<circle cx="131.90" cy="1806.29" r="6.90" fill="#f00"/>
<circle cx="179.49" cy="1921.04" r="6.90" fill="#f00"/>
<circle cx="227.08" cy="1927.96" r="6.90" fill="#f00"/>
<circle cx="274.68" cy="1926.02" r="6.90" fill="#f00"/>
<circle cx="349.47" cy="1927.96" r="6.90" fill="#f00"/>
<circle cx="417.46" cy="1927.96" r="6.90" fill="#f00"/>
<circle cx="546.64" cy="1934.04" r="6.90" fill="#f00"/>
<circle cx="696.22" cy="1927.96" r="6.90" fill="#f00"/>
<circle cx="764.21" cy="1934.04" r="6.90" fill="#f00"/>
<polyline points="131.90,1785.99 179.49,1826.09 227.08,1845.17 274.68,1846.00 349.47,1857.06 417.46,1858.17 546.64,1857.06 696.22,1862.04 764.21,1873.10" fill="none" stroke="#00f" stroke-width="1.05" stroke-linejoin="round"/>
<path d="M131.90 1776.66L139.90 1790.66L123.90 1790.66Z" fill="#00f"/>
<path d="M179.49 1816.76L187.49 1830.76L171.49 1830.76Z" fill="#00f"/>
<path d="M227.08 1835.84L235.08 1849.84L219.08 1849.84Z" fill="#00f"/>
<path d="M274.68 1836.67L282.68 1850.67L266.68 1850.67Z" fill="#00f"/>
<path d="M349.47 1847.73L357.47 1861.73L341.47 1861.73Z" fill="#00f"/>
<path d="M417.46 1848.83L425.46 1862.83L409.46 1862.83Z" fill="#00f"/>
<path d="M546.64 1847.73L554.64 1861.73L538.64 1861.73Z" fill="#00f"/>
<path d="M696.22 1852.70L704.22 1866.70L688.22 1866.70Z" fill="#00f"/>
<path d="M764.21 1863.77L772.21 1877.77L756.21 1877.77Z" fill="#00f"/>
<rect x="344.80" y="1437.40" width="501.00" height="360.50" fill="#fcfcfc"/>
<polyline points="367.57,1463.15 399.45,1734.56 431.34,1749.49 463.22,1752.58 513.32,1755.67 558.86,1762.37 645.40,1767.52 745.60,1751.55 791.15,1763.39" fill="none" stroke="#000" stroke-width="1.30" stroke-linejoin="round"/>
<rect x="363.82" y="1459.40" width="7.50" height="7.50" fill="#000"/>
<rect x="395.70" y="1730.81" width="7.50" height="7.50" fill="#000"/>
<rect x="427.59" y="1745.74" width="7.50" height="7.50" fill="#000"/>
<rect x="459.47" y="1748.83" width="7.50" height="7.50" fill="#000"/>
<rect x="509.57" y="1751.92" width="7.50" height="7.50" fill="#000"/>
<rect x="555.11" y="1758.62" width="7.50" height="7.50" fill="#000"/>
<rect x="641.65" y="1763.77" width="7.50" height="7.50" fill="#000"/>
<rect x="741.85" y="1747.80" width="7.50" height="7.50" fill="#000"/>
<rect x="787.40" y="1759.64" width="7.50" height="7.50" fill="#000"/>
<polyline points="367.57,1463.15 399.45,1663.49 431.34,1676.36 463.22,1672.76 513.32,1676.36 558.86,1676.36 645.40,1687.69 745.60,1676.36 791.15,1686.66" fill="none" stroke="#f00" stroke-width="1.30" stroke-linejoin="round"/>
<circle cx="367.57" cy="1463.15" r="4.25" fill="#f00"/>
<circle cx="399.45" cy="1663.49" r="4.25" fill="#f00"/>
<circle cx="431.34" cy="1676.36" r="4.25" fill="#f00"/>
<circle cx="463.22" cy="1672.76" r="4.25" fill="#f00"/>
<circle cx="513.32" cy="1676.36" r="4.25" fill="#f00"/>
<circle cx="558.86" cy="1676.36" r="4.25" fill="#f00"/>
<circle cx="645.40" cy="1687.69" r="4.25" fill="#f00"/>
<circle cx="745.60" cy="1676.36" r="4.25" fill="#f00"/>
<circle cx="791.15" cy="1686.66" r="4.25" fill="#f00"/>
<polyline points="367.57,1463.15 399.45,1528.04 431.34,1557.91 463.22,1558.94 513.32,1578.00 558.86,1579.03 645.40,1578.00 745.60,1586.75 791.15,1604.78" fill="none" stroke="#00f" stroke-width="1.30" stroke-linejoin="round"/>
<path d="M367.57 1457.15L372.82 1466.15L362.32 1466.15Z" fill="#00f"/>
<path d="M399.45 1522.04L404.70 1531.04L394.20 1531.04Z" fill="#00f"/>
<path d="M431.34 1551.91L436.59 1560.91L426.09 1560.91Z" fill="#00f"/>
<path d="M463.22 1552.94L468.47 1561.94L457.97 1561.94Z" fill="#00f"/>
<path d="M513.32 1572.00L518.57 1581.00L508.07 1581.00Z" fill="#00f"/>
<path d="M558.86 1573.03L564.11 1582.03L553.61 1582.03Z" fill="#00f"/>
<path d="M645.40 1572.00L650.65 1581.00L640.15 1581.00Z" fill="#00f"/>
<path d="M745.60 1580.75L750.85 1589.75L740.35 1589.75Z" fill="#00f"/>
<path d="M791.15 1598.78L796.40 1607.78L785.90 1607.78Z" fill="#00f"/>
<rect x="344.80" y="1437.40" width="501.00" height="360.50" fill="none" stroke="#000" stroke-width="1.50"/>
<line x1="367.57" y1="1797.90" x2="367.57" y2="1805.40" stroke="#000" stroke-width="1.50"/>
<line x1="458.66" y1="1797.90" x2="458.66" y2="1805.40" stroke="#000" stroke-width="1.50"/>
<line x1="549.75" y1="1797.90" x2="549.75" y2="1805.40" stroke="#000" stroke-width="1.50"/>
<line x1="640.85" y1="1797.90" x2="640.85" y2="1805.40" stroke="#000" stroke-width="1.50"/>
<line x1="731.94" y1="1797.90" x2="731.94" y2="1805.40" stroke="#000" stroke-width="1.50"/>
<line x1="823.03" y1="1797.90" x2="823.03" y2="1805.40" stroke="#000" stroke-width="1.50"/>
<line x1="413.12" y1="1797.90" x2="413.12" y2="1802.40" stroke="#000" stroke-width="1.50"/>
<line x1="504.21" y1="1797.90" x2="504.21" y2="1802.40" stroke="#000" stroke-width="1.50"/>
<line x1="595.30" y1="1797.90" x2="595.30" y2="1802.40" stroke="#000" stroke-width="1.50"/>
<line x1="686.39" y1="1797.90" x2="686.39" y2="1802.40" stroke="#000" stroke-width="1.50"/>
<line x1="777.48" y1="1797.90" x2="777.48" y2="1802.40" stroke="#000" stroke-width="1.50"/>
<line x1="337.20" y1="1772.15" x2="344.80" y2="1772.15" stroke="#000" stroke-width="1.50"/>
<line x1="337.20" y1="1720.65" x2="344.80" y2="1720.65" stroke="#000" stroke-width="1.50"/>
<line x1="337.20" y1="1669.15" x2="344.80" y2="1669.15" stroke="#000" stroke-width="1.50"/>
<line x1="337.20" y1="1617.65" x2="344.80" y2="1617.65" stroke="#000" stroke-width="1.50"/>
<line x1="337.20" y1="1566.15" x2="344.80" y2="1566.15" stroke="#000" stroke-width="1.50"/>
<line x1="337.20" y1="1514.65" x2="344.80" y2="1514.65" stroke="#000" stroke-width="1.50"/>
<line x1="337.20" y1="1463.15" x2="344.80" y2="1463.15" stroke="#000" stroke-width="1.50"/>
<line x1="340.50" y1="1797.90" x2="344.80" y2="1797.90" stroke="#000" stroke-width="1.50"/>
<line x1="340.50" y1="1746.40" x2="344.80" y2="1746.40" stroke="#000" stroke-width="1.50"/>
<line x1="340.50" y1="1694.90" x2="344.80" y2="1694.90" stroke="#000" stroke-width="1.50"/>
<line x1="340.50" y1="1643.40" x2="344.80" y2="1643.40" stroke="#000" stroke-width="1.50"/>
<line x1="340.50" y1="1591.90" x2="344.80" y2="1591.90" stroke="#000" stroke-width="1.50"/>
<line x1="340.50" y1="1540.40" x2="344.80" y2="1540.40" stroke="#000" stroke-width="1.50"/>
<line x1="340.50" y1="1488.90" x2="344.80" y2="1488.90" stroke="#000" stroke-width="1.50"/>
<text font-family="Liberation Serif, serif" font-size="25.90" font-weight="bold" fill="#000" transform="translate(361.39,1830.42) scale(0.9550,1)">0</text>
<text font-family="Liberation Serif, serif" font-size="25.90" font-weight="bold" fill="#000" transform="translate(446.30,1830.42) scale(0.9550,1)">20</text>
<text font-family="Liberation Serif, serif" font-size="25.90" font-weight="bold" fill="#000" transform="translate(537.70,1830.42) scale(0.9550,1)">40</text>
<text font-family="Liberation Serif, serif" font-size="25.90" font-weight="bold" fill="#000" transform="translate(628.54,1830.42) scale(0.9550,1)">60</text>
<text font-family="Liberation Serif, serif" font-size="25.90" font-weight="bold" fill="#000" transform="translate(719.63,1830.42) scale(0.9550,1)">80</text>
<text font-family="Liberation Serif, serif" font-size="25.90" font-weight="bold" fill="#000" transform="translate(803.98,1830.42) scale(0.9550,1)">100</text>
<text font-family="Liberation Serif, serif" font-size="26.30" font-weight="bold" fill="#000" transform="translate(307.44,1779.66) scale(0.9450,1)">40</text>
<text font-family="Liberation Serif, serif" font-size="26.30" font-weight="bold" fill="#000" transform="translate(307.44,1728.16) scale(0.9450,1)">50</text>
<text font-family="Liberation Serif, serif" font-size="26.30" font-weight="bold" fill="#000" transform="translate(307.44,1676.66) scale(0.9450,1)">60</text>
<text font-family="Liberation Serif, serif" font-size="26.30" font-weight="bold" fill="#000" transform="translate(307.44,1625.16) scale(0.9450,1)">70</text>
<text font-family="Liberation Serif, serif" font-size="26.30" font-weight="bold" fill="#000" transform="translate(307.44,1573.66) scale(0.9450,1)">80</text>
<text font-family="Liberation Serif, serif" font-size="26.30" font-weight="bold" fill="#000" transform="translate(307.44,1522.16) scale(0.9450,1)">90</text>
<text font-family="Liberation Serif, serif" font-size="26.30" font-weight="bold" fill="#000" transform="translate(295.01,1470.66) scale(0.9450,1)">100</text>
<text font-family="Liberation Serif, serif" font-size="20.71" font-weight="bold" fill="#000" transform="translate(562.28,1842.39) scale(1.0267,1)">Time/d</text>
<text font-family="Liberation Serif, serif" font-size="27.25" font-weight="bold" fill="#000" transform="translate(291.24,1754.87) rotate(-90) scale(0.9847,1)">Viscosity retention rate/%</text>
<rect x="97.90" y="1437.40" width="747.90" height="525.40" fill="none" stroke="#000" stroke-width="2.30"/>
<line x1="131.90" y1="1962.80" x2="131.90" y2="1974.30" stroke="#000" stroke-width="2.20"/>
<line x1="267.88" y1="1962.80" x2="267.88" y2="1974.30" stroke="#000" stroke-width="2.20"/>
<line x1="403.86" y1="1962.80" x2="403.86" y2="1974.30" stroke="#000" stroke-width="2.20"/>
<line x1="539.84" y1="1962.80" x2="539.84" y2="1974.30" stroke="#000" stroke-width="2.20"/>
<line x1="675.82" y1="1962.80" x2="675.82" y2="1974.30" stroke="#000" stroke-width="2.20"/>
<line x1="811.80" y1="1962.80" x2="811.80" y2="1974.30" stroke="#000" stroke-width="2.20"/>
<line x1="199.89" y1="1962.80" x2="199.89" y2="1969.20" stroke="#000" stroke-width="2.20"/>
<line x1="335.87" y1="1962.80" x2="335.87" y2="1969.20" stroke="#000" stroke-width="2.20"/>
<line x1="471.85" y1="1962.80" x2="471.85" y2="1969.20" stroke="#000" stroke-width="2.20"/>
<line x1="607.83" y1="1962.80" x2="607.83" y2="1969.20" stroke="#000" stroke-width="2.20"/>
<line x1="743.81" y1="1962.80" x2="743.81" y2="1969.20" stroke="#000" stroke-width="2.20"/>
<line x1="86.40" y1="1935.15" x2="97.90" y2="1935.15" stroke="#000" stroke-width="2.20"/>
<line x1="86.40" y1="1879.84" x2="97.90" y2="1879.84" stroke="#000" stroke-width="2.20"/>
<line x1="86.40" y1="1824.54" x2="97.90" y2="1824.54" stroke="#000" stroke-width="2.20"/>
<line x1="86.40" y1="1769.23" x2="97.90" y2="1769.23" stroke="#000" stroke-width="2.20"/>
<line x1="86.40" y1="1713.93" x2="97.90" y2="1713.93" stroke="#000" stroke-width="2.20"/>
<line x1="86.40" y1="1658.62" x2="97.90" y2="1658.62" stroke="#000" stroke-width="2.20"/>
<line x1="86.40" y1="1603.32" x2="97.90" y2="1603.32" stroke="#000" stroke-width="2.20"/>
<line x1="86.40" y1="1548.01" x2="97.90" y2="1548.01" stroke="#000" stroke-width="2.20"/>
<line x1="86.40" y1="1492.71" x2="97.90" y2="1492.71" stroke="#000" stroke-width="2.20"/>
<line x1="86.40" y1="1437.40" x2="97.90" y2="1437.40" stroke="#000" stroke-width="2.20"/>
<line x1="91.50" y1="1962.80" x2="97.90" y2="1962.80" stroke="#000" stroke-width="2.20"/>
<line x1="91.50" y1="1907.49" x2="97.90" y2="1907.49" stroke="#000" stroke-width="2.20"/>
<line x1="91.50" y1="1852.19" x2="97.90" y2="1852.19" stroke="#000" stroke-width="2.20"/>
<line x1="91.50" y1="1796.88" x2="97.90" y2="1796.88" stroke="#000" stroke-width="2.20"/>
<line x1="91.50" y1="1741.58" x2="97.90" y2="1741.58" stroke="#000" stroke-width="2.20"/>
<line x1="91.50" y1="1686.27" x2="97.90" y2="1686.27" stroke="#000" stroke-width="2.20"/>
<line x1="91.50" y1="1630.97" x2="97.90" y2="1630.97" stroke="#000" stroke-width="2.20"/>
<line x1="91.50" y1="1575.66" x2="97.90" y2="1575.66" stroke="#000" stroke-width="2.20"/>
<line x1="91.50" y1="1520.36" x2="97.90" y2="1520.36" stroke="#000" stroke-width="2.20"/>
<line x1="91.50" y1="1465.05" x2="97.90" y2="1465.05" stroke="#000" stroke-width="2.20"/>
<text font-family="Liberation Serif, serif" font-size="30.00" font-weight="bold" fill="#000" transform="translate(124.40,2004.05) scale(1.0000,1)">0</text>
<text font-family="Liberation Serif, serif" font-size="30.00" font-weight="bold" fill="#000" transform="translate(252.88,2004.05) scale(1.0000,1)">20</text>
<text font-family="Liberation Serif, serif" font-size="30.00" font-weight="bold" fill="#000" transform="translate(389.23,2004.05) scale(1.0000,1)">40</text>
<text font-family="Liberation Serif, serif" font-size="30.00" font-weight="bold" fill="#000" transform="translate(524.92,2004.05) scale(1.0000,1)">60</text>
<text font-family="Liberation Serif, serif" font-size="30.00" font-weight="bold" fill="#000" transform="translate(660.90,2004.05) scale(1.0000,1)">80</text>
<text font-family="Liberation Serif, serif" font-size="30.00" font-weight="bold" fill="#000" transform="translate(788.70,2004.05) scale(1.0000,1)">100</text>
<text font-family="Liberation Serif, serif" font-size="26.00" font-weight="bold" fill="#000" transform="translate(65.42,1942.70) scale(0.9800,1)">6</text>
<text font-family="Liberation Serif, serif" font-size="26.00" font-weight="bold" fill="#000" transform="translate(65.55,1887.46) scale(0.9800,1)">8</text>
<text font-family="Liberation Serif, serif" font-size="26.00" font-weight="bold" fill="#000" transform="translate(52.94,1832.15) scale(0.9800,1)">10</text>
<text font-family="Liberation Serif, serif" font-size="26.00" font-weight="bold" fill="#000" transform="translate(53.07,1776.91) scale(0.9800,1)">12</text>
<text font-family="Liberation Serif, serif" font-size="26.00" font-weight="bold" fill="#000" transform="translate(52.43,1721.61) scale(0.9800,1)">14</text>
<text font-family="Liberation Serif, serif" font-size="26.00" font-weight="bold" fill="#000" transform="translate(52.68,1666.17) scale(0.9800,1)">16</text>
<text font-family="Liberation Serif, serif" font-size="26.00" font-weight="bold" fill="#000" transform="translate(52.81,1610.93) scale(0.9800,1)">18</text>
<text font-family="Liberation Serif, serif" font-size="26.00" font-weight="bold" fill="#000" transform="translate(52.94,1555.63) scale(0.9800,1)">20</text>
<text font-family="Liberation Serif, serif" font-size="26.00" font-weight="bold" fill="#000" transform="translate(53.07,1500.39) scale(0.9800,1)">22</text>
<text font-family="Liberation Serif, serif" font-size="26.00" font-weight="bold" fill="#000" transform="translate(52.43,1445.08) scale(0.9800,1)">24</text>
<text font-family="Liberation Serif, serif" font-size="27.66" font-weight="bold" fill="#000" transform="translate(428.77,2021.62) scale(1.0270,1)">Time/d</text>
<line x1="105.10" y1="1462.50" x2="169.80" y2="1462.50" stroke="#000" stroke-width="1.20"/>
<rect x="131.25" y="1456.55" width="12.50" height="12.50" fill="#000"/>
<text font-family="Liberation Sans, sans-serif" font-size="28.50" fill="#000" transform="translate(176.75,1472.80) scale(1.0000,1)">pH3</text>
<line x1="105.10" y1="1497.50" x2="169.80" y2="1497.50" stroke="#f00" stroke-width="1.20"/>
<circle cx="137.50" cy="1497.90" r="6.60" fill="#f00"/>
<text font-family="Liberation Sans, sans-serif" font-size="28.50" fill="#000" transform="translate(176.75,1507.90) scale(1.0000,1)">pH7</text>
<line x1="105.10" y1="1533.50" x2="169.80" y2="1533.50" stroke="#00f" stroke-width="1.20"/>
<path d="M137.50 1524.60L145.30 1537.50L129.70 1537.50Z" fill="#00f"/>
<text font-family="Liberation Sans, sans-serif" font-size="28.50" fill="#000" transform="translate(176.75,1543.20) scale(1.0000,1)">pH11</text>
<text font-family="Liberation Sans, sans-serif" font-size="29.00" fill="#000" transform="translate(156.50,1583.20) scale(1.0000,1)">80</text>
<circle cx="202.10" cy="1565.30" r="2.50" fill="none" stroke="#000" stroke-width="1.10"/>
<text stroke="#fcfcfc" stroke-width="0.25" font-family="Liberation Serif, serif" font-size="30.00" fill="#000" transform="translate(203.90,1584.10) scale(1.0000,1)">C</text>
<g transform="translate(38.20,1706.70) rotate(-90)"><text font-family="Liberation Serif, serif" font-size="28.00" font-weight="bold" font-style="italic" x="-0.56" y="-0.50">η</text><text font-family="Liberation Serif, serif" font-size="27.50" font-weight="bold" x="15.98" y="9.70">a</text><text font-family="Liberation Serif, serif" font-size="28.60" font-weight="bold" x="30.59" y="0.00">/CP</text></g></svg>
</body></html>
